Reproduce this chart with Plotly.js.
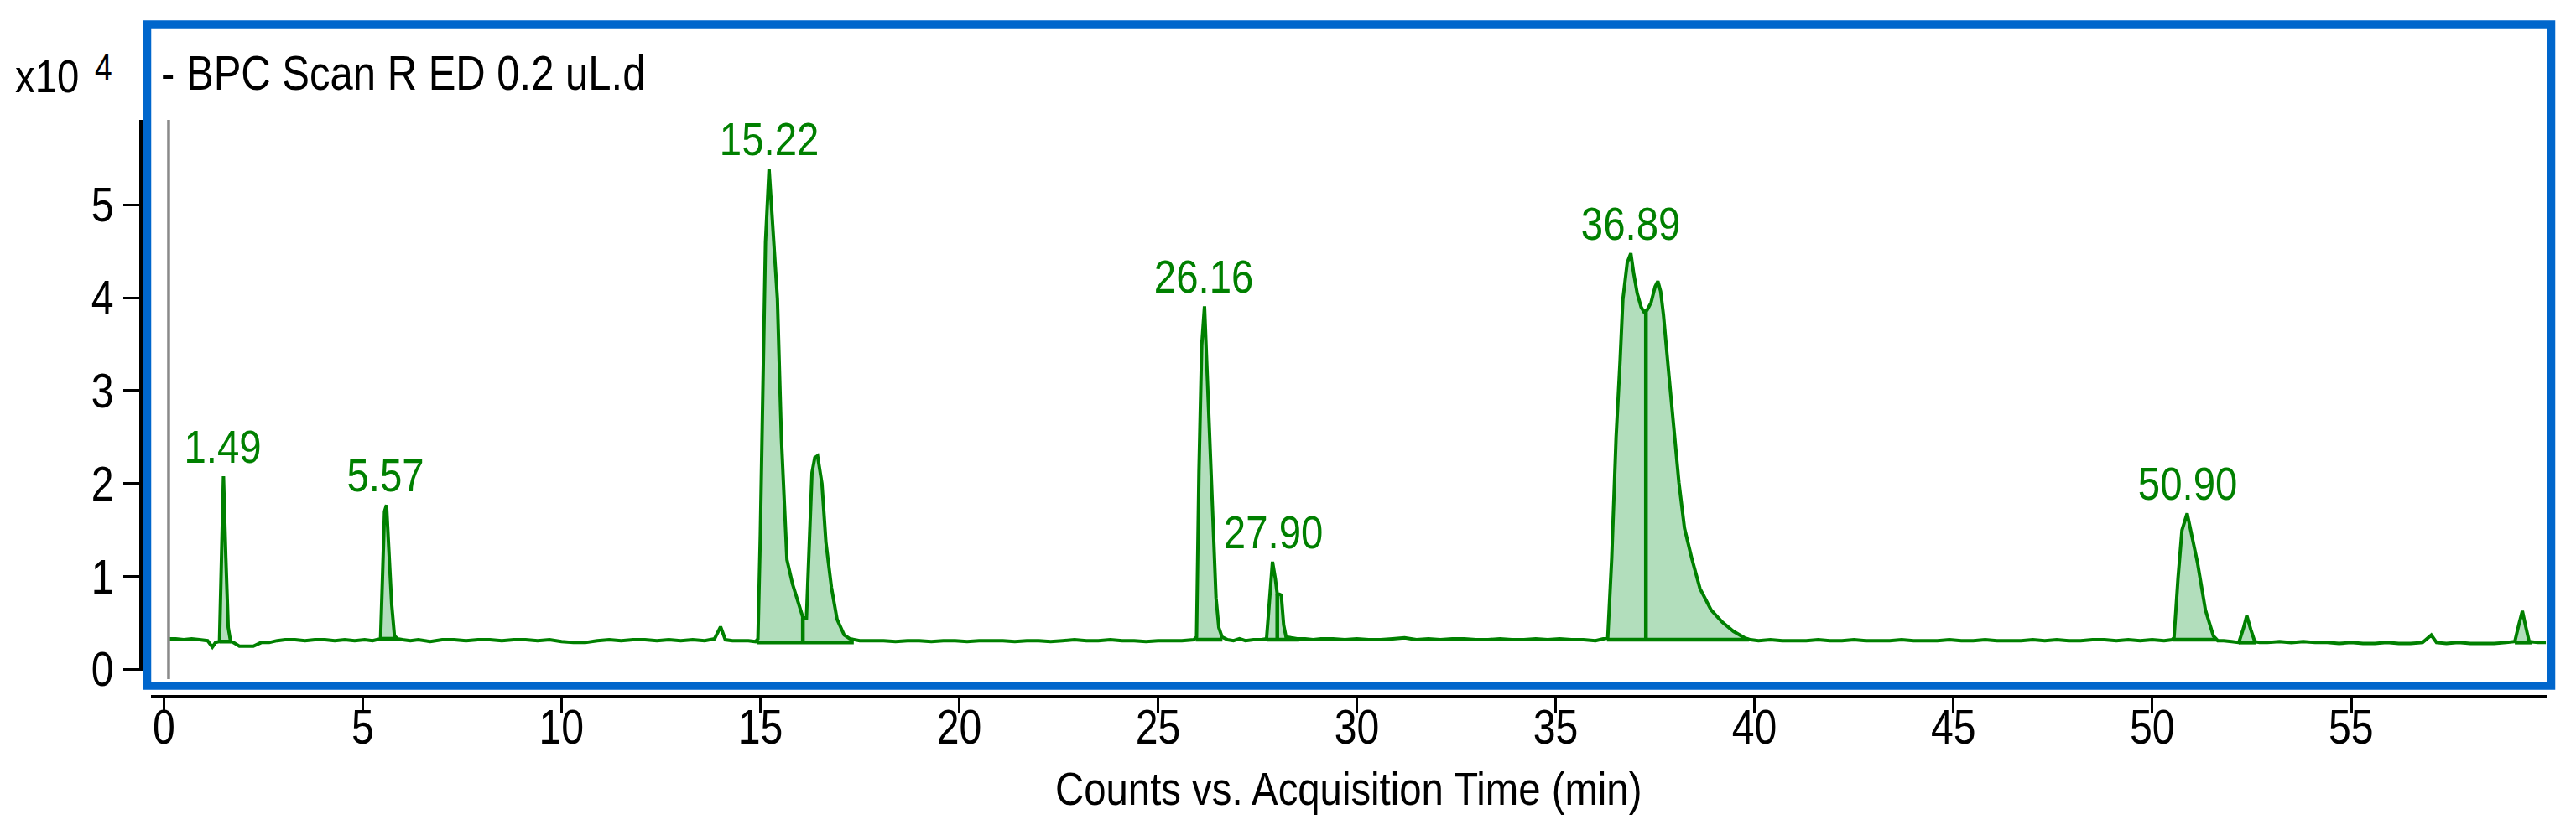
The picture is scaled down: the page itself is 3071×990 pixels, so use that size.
<!DOCTYPE html>
<html>
<head>
<meta charset="utf-8">
<script src="https://cdn.plot.ly/plotly-3.0.1.min.js"></script>
<style>html,body{margin:0;padding:0;background:#fff;}#chart{width:3071px;height:990px;}</style>
</head>
<body>
<div id="chart"></div>
<script>
// ---- data (x10^4 counts vs. acquisition time in minutes) ----
const timeMin = [
  0.12, 0.30, 0.50, 0.70, 0.90, 1.10, 1.22, 1.30, 1.40, 1.45, 1.50, 1.56, 1.62, 1.68, 1.75, 1.90, 2.05, 2.25, 2.45, 2.65, 2.85,
  3.05, 3.30, 3.55, 3.80, 4.05, 4.30, 4.55, 4.80, 5.05, 5.25, 5.45, 5.50, 5.55, 5.60, 5.66, 5.73, 5.80, 5.88,
  6.00, 6.20, 6.40, 6.70, 7.00, 7.30, 7.60, 7.90, 8.20, 8.50, 8.80, 9.10, 9.40, 9.70, 10.00, 10.30, 10.60, 10.90,
  11.20, 11.50, 11.80, 12.10, 12.40, 12.70, 13.00, 13.30, 13.60, 13.85, 14.00, 14.12, 14.30, 14.50, 14.70, 14.88,
  14.94, 15.00, 15.06, 15.13, 15.22, 15.32, 15.43, 15.53, 15.60, 15.67, 15.81, 15.95, 16.07, 16.16, 16.23, 16.30,
  16.37, 16.44, 16.55, 16.65, 16.79, 16.93, 17.11, 17.25, 17.50, 17.80, 18.10, 18.40, 18.70, 19.00, 19.30, 19.60,
  19.90, 20.20, 20.50, 20.80, 21.10, 21.40, 21.70, 22.00, 22.30, 22.60, 22.90, 23.20, 23.50, 23.80, 24.10, 24.40,
  24.70, 25.00, 25.30, 25.60, 25.90, 25.97, 26.03, 26.10, 26.17, 26.25, 26.36, 26.46, 26.53, 26.61, 26.75, 26.90,
  27.05, 27.20, 27.40, 27.60, 27.73, 27.80, 27.88, 27.95, 28.00, 28.05, 28.10, 28.16, 28.22, 28.35, 28.50, 28.70,
  28.90, 29.10, 29.40, 29.70, 30.00, 30.30, 30.60, 30.90, 31.20, 31.50, 31.80, 32.10, 32.40, 32.70, 33.00, 33.30,
  33.60, 33.90, 34.20, 34.50, 34.80, 35.10, 35.40, 35.70, 36.00, 36.20, 36.31, 36.41, 36.52, 36.62, 36.69, 36.80,
  36.89, 36.96, 37.05, 37.15, 37.22, 37.30, 37.40, 37.50, 37.57, 37.64, 37.71, 37.85, 37.96, 38.10, 38.24, 38.42,
  38.63, 38.91, 39.19, 39.47, 39.75, 39.90, 40.10, 40.40, 40.70, 41.00, 41.30, 41.60, 41.90, 42.20, 42.50, 42.80,
  43.10, 43.40, 43.70, 44.00, 44.30, 44.60, 44.90, 45.20, 45.50, 45.80, 46.10, 46.40, 46.70, 47.00, 47.30, 47.60,
  47.90, 48.20, 48.50, 48.80, 49.10, 49.40, 49.70, 50.00, 50.30, 50.50, 50.55, 50.65, 50.75, 50.88, 50.97, 51.14,
  51.34, 51.54, 51.65, 51.80, 52.00, 52.18, 52.30, 52.38, 52.48, 52.58, 52.70, 52.90, 53.20, 53.50, 53.80, 54.10,
  54.40, 54.70, 55.00, 55.30, 55.60, 55.90, 56.20, 56.50, 56.80, 57.02, 57.15, 57.40, 57.70, 58.00, 58.30, 58.60,
  58.90, 59.12, 59.22, 59.31, 59.40, 59.48, 59.70, 59.90
];
const countsE4 = [
  0.33, 0.33, 0.32, 0.33, 0.32, 0.31, 0.24, 0.29, 0.30, 1.15, 2.08, 1.20, 0.45, 0.30, 0.29, 0.25, 0.25, 0.25, 0.29, 0.29, 0.31,
  0.32, 0.32, 0.31, 0.32, 0.32, 0.31, 0.32, 0.31, 0.32, 0.31, 0.33, 1.00, 1.70, 1.77, 1.30, 0.70, 0.36, 0.33,
  0.32, 0.31, 0.32, 0.30, 0.32, 0.32, 0.31, 0.32, 0.32, 0.31, 0.32, 0.32, 0.31, 0.32, 0.30, 0.29, 0.29, 0.31,
  0.32, 0.31, 0.32, 0.32, 0.31, 0.32, 0.31, 0.32, 0.31, 0.33, 0.46, 0.32, 0.31, 0.31, 0.31, 0.30,
  0.33, 1.45, 3.00, 4.60, 5.39, 4.74, 3.99, 2.49, 1.75, 1.18, 0.92, 0.73, 0.56, 0.55, 1.35, 2.12,
  2.28, 2.30, 2.00, 1.37, 0.88, 0.54, 0.37, 0.33, 0.31, 0.31, 0.31, 0.30, 0.31, 0.31, 0.30, 0.31,
  0.31, 0.30, 0.31, 0.31, 0.31, 0.30, 0.31, 0.31, 0.30, 0.31, 0.32, 0.31, 0.31, 0.32, 0.31, 0.31,
  0.30, 0.31, 0.31, 0.31, 0.32, 0.35, 2.13, 3.49, 3.91, 3.03, 1.82, 0.77, 0.45, 0.35, 0.32, 0.31,
  0.33, 0.31, 0.32, 0.32, 0.33, 0.78, 1.16, 0.98, 0.81, 0.81, 0.80, 0.48, 0.35, 0.34, 0.33, 0.33,
  0.32, 0.33, 0.33, 0.32, 0.33, 0.32, 0.32, 0.33, 0.34, 0.32, 0.33, 0.32, 0.33, 0.33, 0.32, 0.32,
  0.33, 0.32, 0.32, 0.33, 0.32, 0.33, 0.32, 0.32, 0.31, 0.33, 0.34, 1.20, 2.50, 3.32, 3.98, 4.38,
  4.48, 4.27, 4.05, 3.90, 3.85, 3.87, 3.95, 4.12, 4.18, 4.07, 3.82, 3.16, 2.67, 2.01, 1.52, 1.20,
  0.87, 0.64, 0.51, 0.41, 0.34, 0.32, 0.31, 0.32, 0.31, 0.31, 0.31, 0.32, 0.31, 0.31, 0.32, 0.31,
  0.31, 0.31, 0.32, 0.31, 0.31, 0.31, 0.32, 0.31, 0.31, 0.32, 0.31, 0.31, 0.31, 0.32, 0.31, 0.32,
  0.31, 0.31, 0.32, 0.32, 0.31, 0.32, 0.31, 0.32, 0.31, 0.32, 0.34, 0.98, 1.50, 1.68, 1.50, 1.15,
  0.64, 0.36, 0.31, 0.31, 0.30, 0.29, 0.45, 0.58, 0.43, 0.30, 0.29, 0.29, 0.30, 0.29, 0.30, 0.29,
  0.29, 0.28, 0.29, 0.28, 0.28, 0.29, 0.28, 0.28, 0.29, 0.37, 0.29, 0.28, 0.29, 0.28, 0.28, 0.28,
  0.29, 0.30, 0.48, 0.63, 0.45, 0.30, 0.29, 0.29
];
// integrated peak regions
const intStart = [1.40, 5.45, 14.92, 25.95, 27.73, 36.29, 50.53, 52.18, 59.12];
const intEnd   = [1.68, 5.88, 17.35, 26.62, 28.55, 39.86, 51.62, 52.62, 59.55];
const intBase  = [0.30, 0.33, 0.29, 0.32, 0.32, 0.32, 0.32, 0.29, 0.29];
const splitTimes = [16.07, 28.00, 37.27];
// labelled retention times
const peakLabelTimes = [1.49, 5.57, 15.22, 26.16, 27.90, 36.89, 50.90];
const peakLabelText = ['1.49', '5.57', '15.22', '26.16', '27.90', '36.89', '50.90'];
const xTickVals = [0, 5, 10, 15, 20, 25, 30, 35, 40, 45, 50, 55];
const yTickVals = [0, 1, 2, 3, 4, 5];
const chartTitle = '- BPC Scan R ED 0.2 uL.d';
const xAxisTitle = 'Counts vs. Acquisition Time (min)';

// ---- helpers ----
function curveAt(t) {
  for (let i = 0; i < timeMin.length - 1; i++) {
    if (t >= timeMin[i] && t <= timeMin[i + 1]) {
      const f = (t - timeMin[i]) / (timeMin[i + 1] - timeMin[i]);
      return countsE4[i] + f * (countsE4[i + 1] - countsE4[i]);
    }
  }
  return countsE4[countsE4.length - 1];
}
function apexNear(t) {
  let m = -Infinity;
  for (let i = 0; i < timeMin.length; i++) if (Math.abs(timeMin[i] - t) <= 0.12) m = Math.max(m, countsE4[i]);
  return m;
}

const W = 3071, H = 990;
const FONT = "'Liberation Sans', Arial, sans-serif";
const GREEN = '#008000';
const FILL = 'rgb(178,222,188)';
const CONDENSE = 0.845;

const traces = [];
// filled (integrated) peak areas
for (let k = 0; k < intStart.length; k++) {
  const xs = [intStart[k], intStart[k]], ys = [intBase[k], curveAt(intStart[k])];
  for (let i = 0; i < timeMin.length; i++) if (timeMin[i] > intStart[k] && timeMin[i] < intEnd[k]) { xs.push(timeMin[i]); ys.push(countsE4[i]); }
  xs.push(intEnd[k], intEnd[k]); ys.push(curveAt(intEnd[k]), intBase[k]);
  traces.push({x: xs, y: ys, type: 'scatter', mode: 'lines', fill: 'toself', fillcolor: FILL, line: {width: 0}, hoverinfo: 'skip'});
}
// integration baselines and split drop-lines
const bx = [], by = [];
for (let k = 0; k < intStart.length; k++) { bx.push(intStart[k], intEnd[k], null); by.push(intBase[k], intBase[k], null); }
for (const s of splitTimes) {
  let b = 0.3;
  for (let k = 0; k < intStart.length; k++) if (s > intStart[k] && s < intEnd[k]) b = intBase[k];
  bx.push(s, s, null); by.push(b, curveAt(s), null);
}
traces.push({x: bx, y: by, type: 'scatter', mode: 'lines', line: {color: GREEN, width: 4.5}, hoverinfo: 'skip'});
// chromatogram trace
traces.push({x: timeMin, y: countsE4, type: 'scatter', mode: 'lines', line: {color: GREEN, width: 4}, hoverinfo: 'skip'});

const annotations = peakLabelTimes.map((t, i) => ({
  x: t, y: apexNear(t), xref: 'x', yref: 'y', text: peakLabelText[i], showarrow: false,
  xanchor: 'center', yanchor: 'bottom', yshift: 2, font: {family: FONT, size: 56, color: GREEN}
}));
annotations.push({x: 190 / W, y: 1 - 86 / H, xref: 'paper', yref: 'paper', text: chartTitle, showarrow: false,
  xanchor: 'left', yanchor: 'middle', font: {family: FONT, size: 58, color: '#000'}});
annotations.push({x: 16 / W, y: 1 - 90 / H, xref: 'paper', yref: 'paper', text: 'x10', showarrow: false,
  xanchor: 'left', yanchor: 'middle', font: {family: FONT, size: 56, color: '#000'}});
annotations.push({x: 111 / W, y: 1 - 81 / H, xref: 'paper', yref: 'paper', text: '4', showarrow: false,
  xanchor: 'left', yanchor: 'middle', font: {family: FONT, size: 44, color: '#000'}});

const layout = {
  width: W, height: H, autosize: false,
  margin: {l: 0, r: 0, t: 0, b: 0, pad: 0},
  paper_bgcolor: '#fff', plot_bgcolor: '#fff',
  showlegend: false, hovermode: false,
  font: {family: FONT, size: 56, color: '#000'},
  xaxis: {
    domain: [179.5 / W, 3036 / W], range: [-0.333, 59.92],
    anchor: 'free', position: (H - 830.5) / H,
    showline: true, linecolor: '#000', linewidth: 4.5,
    ticks: 'outside', ticklen: 18, tickwidth: 3.5, tickcolor: '#000',
    ticklabelstandoff: -32,
    tickmode: 'array', tickvals: xTickVals, ticktext: xTickVals.map(String),
    showgrid: false, zeroline: false, automargin: false,
    tickfont: {family: FONT, size: 57, color: '#000'},
    title: {text: xAxisTitle, font: {family: FONT, size: 56, color: '#000'}, standoff: 22}
  },
  yaxis: {
    domain: [(H - 800) / H, (H - 143) / H], range: [-0.0135, 5.916],
    anchor: 'free', position: 168 / W,
    showline: true, linecolor: '#000', linewidth: 4.5,
    ticks: 'outside', ticklen: 19, tickwidth: 3.5, tickcolor: '#000',
    tickmode: 'array', tickvals: yTickVals, ticktext: yTickVals.map(String),
    showgrid: false, zeroline: false, automargin: false,
    tickfont: {family: FONT, size: 57, color: '#000'}
  },
  shapes: [
    {type: 'line', xref: 'x', yref: 'paper', x0: timeMin[0], x1: timeMin[0], y0: (H - 810) / H, y1: (H - 143) / H,
     line: {color: '#8a8a8a', width: 3.5}, layer: 'above'},
    {type: 'rect', xref: 'paper', yref: 'paper', x0: 175.5 / W, x1: 3041.5 / W, y0: (H - 818) / H, y1: (H - 29) / H,
     line: {color: '#0066CC', width: 9.5}, fillcolor: 'rgba(0,0,0,0)', layer: 'above'}
  ],
  annotations: annotations
};

// narrow the glyphs horizontally (the original uses a condensed UI font), keeping each text's anchor point fixed
function condenseText() {
  document.querySelectorAll('#chart svg text').forEach(el => {
    if (!el.textContent) return;
    const bb = el.getBBox();
    let anchor = el.getAttribute('text-anchor') || 'start';
    const ann = el.closest('.annotation');
    if (ann) {
      const idx = +ann.getAttribute('data-index');
      const xa = (annotations[idx] || {}).xanchor;
      anchor = xa === 'left' ? 'start' : (xa === 'right' ? 'end' : 'middle');
    }
    const ax = anchor === 'middle' ? bb.x + bb.width / 2 : (anchor === 'end' ? bb.x + bb.width : bb.x);
    const prev = el.getAttribute('transform') || '';
    el.setAttribute('transform', (prev + ' translate(' + ax + ',0) scale(' + CONDENSE + ',1) translate(' + (-ax) + ',0)').trim());
  });
}

Plotly.newPlot('chart', traces, layout, {staticPlot: true, displayModeBar: false}).then(condenseText);
</script>
</body>
</html>
